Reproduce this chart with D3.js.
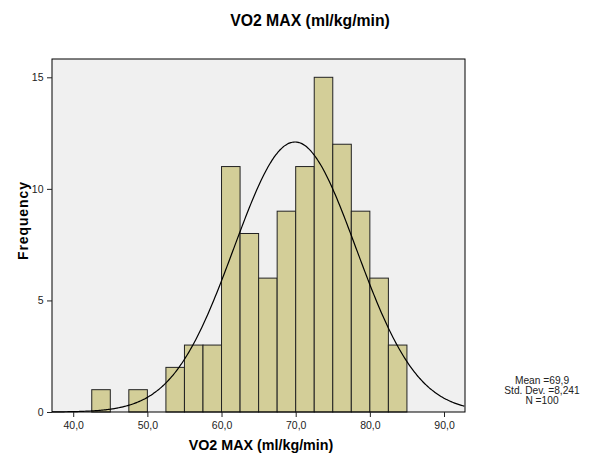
<!DOCTYPE html>
<html><head><meta charset="utf-8">
<script src="https://cdn.jsdelivr.net/npm/d3@7"></script>
<style>body{margin:0;background:#fff}svg{display:block;font-family:"Liberation Sans",Arial,sans-serif}</style>
</head><body><div id="chart"></div>
<script>
const binStarts = [42.5,45,47.5,50,52.5,55,57.5,60,62.5,65,67.5,70,72.5,75,77.5,80,82.5];
const counts    = [1,0,1,0,2,3,3,11,8,6,9,11,15,12,9,6,3];
const binWidth = 2.5;
const xTicks = [40,50,60,70,80,90];
const yTicks = [0,5,10,15];
const mean = 69.9, sd = 8.241, n = 100;
const statLines = ["Mean =69,9","Std. Dev. =8,241","N =100"];

const W=598,H=457;
const L=52,T=59,R=465,B=412;
const svg=d3.select("#chart").append("svg").attr("width",W).attr("height",H);
const x=d3.scaleLinear().domain([37.14,92.83]).range([L,R]);
const y=d3.scaleLinear().domain([0,15]).range([B,77.3]);

svg.append("rect").attr("x",L).attr("y",T).attr("width",R-L).attr("height",B-T).attr("fill","#f0f0f0");

svg.append("g").selectAll("rect").data(binStarts.map((s,i)=>({s,c:counts[i]})).filter(d=>d.c>0))
 .join("rect")
 .attr("x",d=>x(d.s)).attr("width",d=>x(d.s+binWidth)-x(d.s))
 .attr("y",d=>y(d.c)).attr("height",d=>y(0)-y(d.c))
 .attr("fill","#d3ce98").attr("stroke","#222").attr("stroke-width",1);

// normal curve from the stated mean, sd and N
const xs=d3.range(37.14,92.84,0.2);
const pdf=v=>n*binWidth/(sd*Math.sqrt(2*Math.PI))*Math.exp(-0.5*((v-mean)/sd)**2);
svg.append("path").datum(xs).attr("fill","none").attr("stroke","#000").attr("stroke-width",1.2)
 .attr("d",d3.line().x(d=>x(d)).y(d=>y(pdf(d))).curve(d3.curveBasis));

svg.append("rect").attr("x",L).attr("y",T).attr("width",R-L).attr("height",B-T).attr("fill","none").attr("stroke","#000").attr("stroke-width",1);

const xa=svg.append("g").attr("transform",`translate(0,${B})`)
 .call(d3.axisBottom(x).tickValues(xTicks).tickSize(5).tickSizeOuter(0).tickFormat(d=>d.toFixed(1).replace(".",",")));
xa.select(".domain").remove();
xa.selectAll("text").attr("font-size",10.5).attr("fill","#222").attr("dy","0.9em").attr("font-family","Liberation Sans, Arial, sans-serif");
xa.selectAll("line").attr("stroke","#222");
const ya=svg.append("g").attr("transform",`translate(${L},0)`)
 .call(d3.axisLeft(y).tickValues(yTicks).tickSize(5).tickSizeOuter(0).tickPadding(3.5));
ya.select(".domain").remove();
ya.selectAll("text").attr("font-size",10.5).attr("fill","#222").attr("font-family","Liberation Sans, Arial, sans-serif");
ya.selectAll("line").attr("stroke","#222");

svg.append("text").attr("x",310).attr("y",25.5).attr("text-anchor","middle").attr("font-weight","bold").attr("font-size",15.8).text("VO2 MAX (ml/kg/min)");
svg.append("text").attr("x",261).attr("y",450).attr("text-anchor","middle").attr("font-weight","bold").attr("font-size",14.3).text("VO2 MAX (ml/kg/min)");
svg.append("text").attr("transform","translate(27.5,221) rotate(-90)").attr("text-anchor","middle").attr("font-weight","bold").attr("font-size",14)
 .attr("textLength",78).attr("lengthAdjust","spacing").text("Frequency");

svg.append("g").selectAll("text").data(statLines).join("text")
 .attr("x",542).attr("y",(d,i)=>383.5+i*10.4).attr("text-anchor","middle").attr("font-size",10.2).attr("fill","#222").text(d=>d);
</script></body></html>
